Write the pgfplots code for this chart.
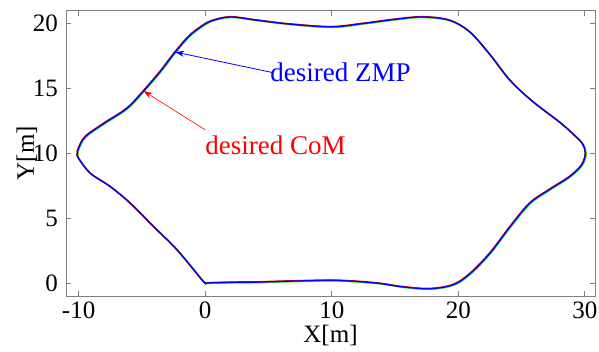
\documentclass[border=0pt]{standalone}
\usepackage{fontspec}
\setmainfont{Liberation Serif}
\usepackage{pgfplots}
\usepackage{pgfplotstable}
\pgfplotsset{compat=1.18}
\usetikzlibrary{arrows.meta}
\definecolor{axgray}{RGB}{128,128,128}
\definecolor{lgreen}{RGB}{60,230,60}

\pgfplotstableread{
x y
0 0
2 0.05
4.1 0.07
7 0.15
10.4 0.2
13.5 0.0
15.65 -0.3
17.75 -0.44
19.6 -0.13
20.9 0.7
22.5 2.3
24.1 4.35
25.65 6.15
27.2 7.2
28.8 8.2
29.75 9.1
30.05 10.0
29.8 10.75
29.1 11.45
28.0 12.4
25.9 13.97
24.1 15.6
22.5 17.6
20.9 19.35
19.3 20.25
17.2 20.5
15.1 20.33
12.5 20.0
10 19.74
6.7 19.95
4.1 20.25
2 20.5
0.5 20.2
-0.4 19.7
-1.3 19.0
-2.37 17.8
-3.55 16.3
-4.87 14.8
-6.18 13.46
-8.0 12.3
-9.47 11.28
-10.0 10.4
-10.1 10.0
-10.0 9.6
-9.08 8.46
-7.5 7.43
-5.92 6.15
-4.08 4.35
-2.23 2.56
-0.26 0.25
0 0
}\path

\begin{document}
\begin{tikzpicture}
\begin{axis}[
  scale only axis, width=529pt, height=285.5pt,
  xmin=-11, xmax=30.8, ymin=-1, ymax=21,
  axis line style={axgray, line width=0.8pt},
  every tick/.style={axgray, line width=0.8pt},
  major tick length=5pt,
  tick align=inside,
  xtick={-10,0,10,20,30}, xticklabels={-10,0,10,20,30},
  ytick={0,5,10,15,20}, yticklabels={0,5,10,15,20},
  tick label style={font=\fontsize{25}{25}\selectfont, black},
  xticklabel style={inner sep=0pt, yshift=-6pt},
  yticklabel style={inner sep=0pt, xshift=-8pt},
  xlabel={X[m]}, ylabel={Y[m]},
  xlabel style={font=\fontsize{25}{25}\selectfont, at={(rel axis cs:0.5,0)}, anchor=base, yshift=-46pt},
  ylabel style={font=\fontsize{25}{25}\selectfont, at={(rel axis cs:0,0.5)}, anchor=base, yshift=32pt},
  clip=false,
]
\addplot[lgreen, line width=1.8pt, smooth, tension=0.55, xshift=0.5pt, yshift=-0.4pt] table[x=x,y=y] {\path};
\addplot[red, line width=1.5pt, smooth, tension=0.55, xshift=-0.3pt, yshift=0.3pt] table[x=x,y=y] {\path};
\addplot[blue, line width=1.3pt, smooth, tension=0.55] table[x=x,y=y] {\path};

\draw[blue, line width=0.8pt, -{Stealth[length=9pt,width=6pt]}] (axis cs:5.26,16.23) -- (axis cs:-2.37,17.8);
\draw[red, line width=0.6pt, -{Stealth[length=9pt,width=6pt]}] (axis cs:0,11.8) -- (axis cs:-4.87,14.8);
\node[blue, anchor=base west, inner sep=0pt, font=\fontsize{27}{27}\selectfont] at (axis cs:5.13,15.56) {desired ZMP};
\node[red, anchor=base west, inner sep=0pt, font=\fontsize{27}{27}\selectfont] at (axis cs:0,9.87) {desired CoM};

\coordinate (ll) at (rel axis cs:0,0);
\coordinate (ur) at (rel axis cs:1,1);
\end{axis}
\pgfresetboundingbox
\path[use as bounding box] ([xshift=-66pt,yshift=-55pt]ll) rectangle ([xshift=4pt,yshift=10.5pt]ur);
\end{tikzpicture}
\end{document}
